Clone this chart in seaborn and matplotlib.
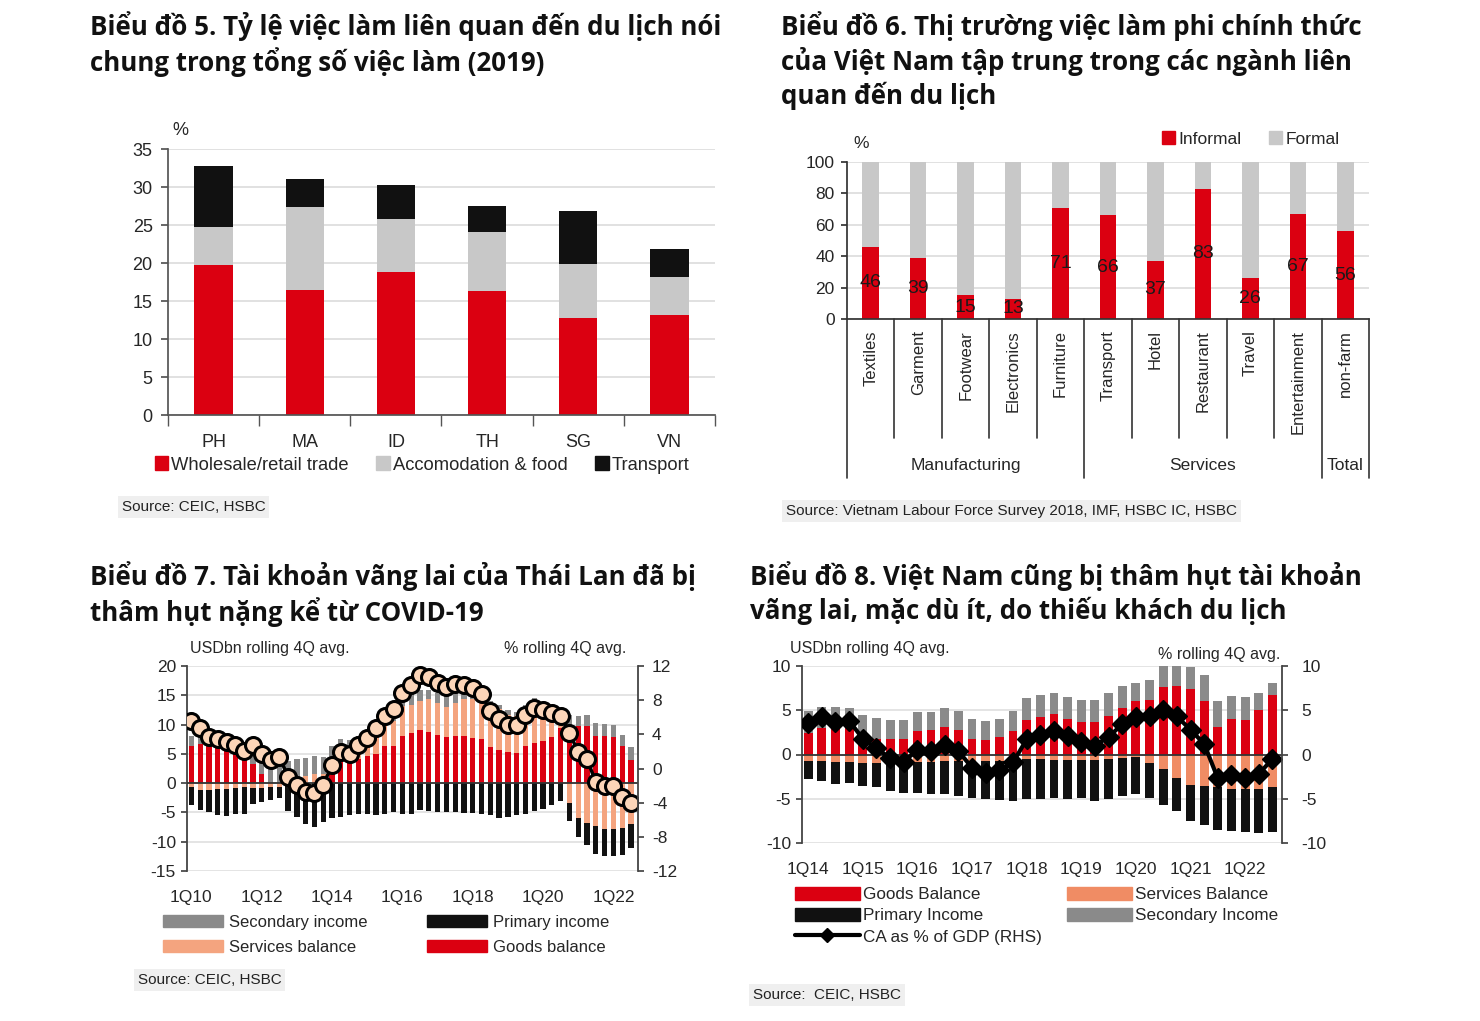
import matplotlib
matplotlib.use('Agg')
import matplotlib.pyplot as plt
import matplotlib.transforms as mtransforms
from matplotlib.patches import Patch
from matplotlib.lines import Line2D
import numpy as np
import seaborn as sns

sns.set_theme(style="white")
plt.rcParams['font.family'] = ['Liberation Sans', 'DejaVu Sans']
plt.rcParams['axes.unicode_minus'] = False
TITLE_FONT = ['Open Sans', 'DejaVu Sans']

RED = '#DB0011'
LGRAY = '#C8C8C8'
BLACK = '#111111'
SALMON7 = '#F4A47F'
SALMON8 = '#F08C64'
DGRAY = '#8A8A8A'
GRID = '#DCDCDC'
SPINE = '#555555'

# ---------------- Chart 5 data ----------------
countries = ['PH', 'MA', 'ID', 'TH', 'SG', 'VN']
wholesale = [19.8, 16.5, 18.8, 16.3, 12.8, 13.1]
accommodation = [4.9, 10.9, 7.0, 7.8, 7.1, 5.0]
transport = [8.0, 3.7, 4.4, 3.4, 7.0, 3.7]

# ---------------- Chart 6 data ----------------
sectors = ['Textiles', 'Garment', 'Footwear', 'Electronics', 'Furniture',
           'Transport', 'Hotel', 'Restaurant', 'Travel', 'Entertainment', 'non-farm']
informal = [46, 39, 15, 13, 71, 66, 37, 83, 26, 67, 56]
formal = [54, 61, 85, 87, 29, 34, 63, 17, 74, 33, 44]
groups = ['Manufacturing', 'Services', 'Total']

# ---------------- Chart 7 data (Thailand, 1Q10-3Q22) ----------------
ticks7 = ['1Q10', '1Q12', '1Q14', '1Q16', '1Q18', '1Q20', '1Q22']
goods7 = [6.4, 6.7, 6.4, 6.3, 6.0, 5.5, 4.6, 3.2, 1.5, 0.0,
          0.0, 0.0, 0.0, 0.0, 0.0, 0.4, 1.9, 3.8, 3.6, 4.2,
          4.6, 4.9, 6.3, 6.4, 8.1, 8.5, 9.1, 8.8, 8.3, 7.9,
          8.1, 8.1, 7.7, 7.6, 6.1, 5.6, 5.4, 5.1, 6.4, 6.8,
          7.2, 7.9, 9.4, 9.6, 9.7, 9.8, 8.1, 8.1, 7.9, 6.4, 4.0]
services7 = [-0.7, -1.1, -1.1, -1.0, -1.0, -0.8, -0.6, -0.9, -0.9, -0.7,
             -0.6, -0.3, 0.5, 1.2, 1.5, 1.2, 0.5, 0.3, 1.2, 1.8,
             2.3, 4.5, 4.0, 4.2, 5.0, 4.8, 5.0, 5.5, 5.3, 5.1,
             5.6, 6.3, 6.6, 6.2, 7.3, 7.0, 6.3, 6.3, 5.9, 6.4,
             5.5, 4.0, 1.5, -3.4, -5.9, -6.8, -7.4, -7.9, -7.9, -7.6, -7.0]
secondary7 = [1.7, 1.9, 1.9, 2.0, 2.3, 2.0, 1.7, 2.0, 3.4, 4.3,
              3.8, 3.8, 3.6, 3.1, 3.1, 2.9, 3.9, 3.4, 2.6, 2.0,
              0.8, 0.8, 0.6, 0.5, 1.3, 2.5, 1.8, 1.6, 1.8, 2.1,
              2.0, 1.6, 1.4, 0.8, 0.6, 0.8, 0.8, 0.7, 1.1, 1.3,
              1.1, 1.2, 0.8, 2.1, 1.8, 1.9, 2.2, 2.0, 2.1, 1.9, 2.1]
primary7 = [-3.0, -3.5, -3.8, -4.4, -4.6, -4.5, -4.7, -2.6, -2.4, -2.1,
            -2.0, -4.4, -5.8, -6.9, -7.5, -6.7, -5.9, -5.7, -5.4, -5.3,
            -5.3, -5.4, -5.3, -5.0, -5.3, -5.3, -4.5, -4.8, -5.0, -5.0,
            -5.0, -5.1, -5.1, -5.3, -5.5, -6.0, -5.8, -5.5, -5.3, -4.8,
            -4.4, -3.8, -3.1, -3.0, -3.3, -3.7, -4.7, -4.6, -4.6, -4.6, -4.1]
ca7 = [5.6, 4.7, 3.7, 3.4, 3.1, 2.75, 2.0, 2.75, 1.7, 1.0,
       1.4, -1.0, -1.9, -2.75, -2.9, -1.9, 0.4, 1.9, 1.7, 2.8,
       3.6, 4.7, 6.2, 7.0, 8.8, 9.8, 11.0, 10.7, 10.0, 9.5,
       9.9, 9.8, 9.4, 8.7, 6.7, 5.8, 5.1, 5.1, 6.3, 7.1,
       6.9, 6.5, 6.2, 4.2, 1.9, 1.1, -1.6, -2.0, -2.1, -3.3, -4.0]

# ---------------- Chart 8 data (Vietnam, 1Q14-3Q22) ----------------
ticks8 = ['1Q14', '1Q15', '1Q16', '1Q17', '1Q18', '1Q19', '1Q20', '1Q21', '1Q22']
goods8 = [2.4, 3.0, 2.9, 3.0, 1.3, 1.8, 1.8, 1.8, 2.6, 2.8,
          3.1, 2.8, 1.8, 1.6, 2.0, 2.6, 3.9, 4.2, 4.6, 4.0,
          3.7, 3.7, 4.4, 5.2, 6.0, 6.2, 7.6, 7.7, 7.4, 6.1,
          3.1, 4.0, 3.9, 5.0, 6.7]
secondary8 = [2.5, 2.4, 2.5, 2.3, 3.2, 2.3, 2.1, 2.1, 2.2, 2.0,
              2.1, 2.1, 2.2, 2.2, 2.0, 2.3, 2.5, 2.5, 2.3, 2.5,
              2.5, 2.5, 2.5, 2.5, 2.1, 2.2, 2.4, 2.5, 2.5, 2.9,
              2.9, 2.6, 2.6, 1.9, 1.4]
services8 = [-0.75, -0.75, -0.8, -0.8, -1.0, -1.0, -0.7, -0.7, -0.8, -0.8,
             -0.7, -0.7, -0.7, -0.7, -0.7, -0.6, -0.5, -0.5, -0.6, -0.6,
             -0.6, -0.6, -0.5, -0.4, -0.3, -1.0, -1.6, -2.6, -3.5, -3.6,
             -3.7, -3.9, -3.9, -3.9, -3.7]
primary8 = [-2.05, -2.25, -2.5, -2.4, -2.6, -2.7, -3.4, -3.6, -3.6, -3.7,
            -3.8, -4.0, -4.2, -4.3, -4.4, -4.7, -4.5, -4.5, -4.3, -4.4,
            -4.3, -4.6, -4.5, -4.3, -4.2, -3.9, -4.1, -3.8, -4.0, -4.4,
            -4.8, -4.8, -4.9, -5.0, -5.05]
ca8 = [3.6, 4.2, 3.7, 3.8, 1.8, 0.7, -0.4, -0.8, 0.5, 0.4,
       1.1, 0.4, -1.5, -2.1, -1.8, -0.9, 1.7, 2.2, 2.7, 2.1,
       1.4, 1.0, 2.0, 3.4, 4.2, 4.4, 5.0, 4.3, 2.8, 1.2,
       -2.7, -2.3, -2.7, -2.2, -0.5]

W, H = 1480, 1021


def fx(px):
    return px / W


def fy(py):
    return 1 - py / H


def rect(x0, y0, x1, y1):
    return [fx(x0), fy(y1), fx(x1) - fx(x0), fy(y0) - fy(y1)]


def layer(ax, cats, heights, color, width):
    sns.barplot(x=cats, y=heights, color=color, width=width, saturation=1,
                errorbar=None, edgecolor='none', linewidth=0, ax=ax)


def title(x, y, text):
    fig.text(fx(x), fy(y), text, family=TITLE_FONT, fontweight='bold',
             fontsize=18.6, va='top', ha='left', linespacing=1.27, color='#111111')


def source(x, y, text):
    fig.text(fx(x), fy(y), text, fontsize=11, va='center', ha='left', color='#222222',
             bbox=dict(facecolor='#EFEFEF', edgecolor='none', pad=2.5))


fig = plt.figure(figsize=(W / 100, H / 100), dpi=100)
fig.patch.set_facecolor('white')

# ====================== Chart 5 ======================
title(90, 11, "Biểu đồ 5. Tỷ lệ việc làm liên quan đến du lịch nói\nchung trong tổng số việc làm (2019)")
ax5 = fig.add_axes(rect(168, 149, 715, 415))
tot5 = np.array(wholesale) + np.array(accommodation) + np.array(transport)
mid5 = np.array(wholesale) + np.array(accommodation)
layer(ax5, countries, tot5, BLACK, 0.42)
layer(ax5, countries, mid5, LGRAY, 0.42)
layer(ax5, countries, wholesale, RED, 0.42)
ax5.set_ylim(0, 35)
ax5.set_xlim(-0.5, 5.5)
ax5.set_yticks(np.arange(0, 36, 5))
ax5.yaxis.grid(True, color=GRID, lw=1.2)
ax5.set_axisbelow(True)
for s in ['top', 'right']:
    ax5.spines[s].set_visible(False)
for s in ['left', 'bottom']:
    ax5.spines[s].set_color(SPINE)
ax5.tick_params(axis='y', left=True, length=5, color=SPINE, labelsize=13, pad=6)
ax5.tick_params(axis='x', length=0, labelsize=13, pad=14)
ax5.set_xticks(np.arange(-0.5, 6, 1), minor=True)
ax5.tick_params(axis='x', which='minor', bottom=True, length=8, color=SPINE)
ax5.set_xlabel('')
ax5.set_ylabel('')
fig.text(fx(172), fy(130), '%', fontsize=13, va='center')
h5 = [Patch(color=RED), Patch(color=LGRAY), Patch(color=BLACK)]
fig.legend(h5, ['Wholesale/retail trade', 'Accomodation & food', 'Transport'],
           loc='center', bbox_to_anchor=(fx(422), fy(465)), ncol=3, frameon=False,
           fontsize=13.2, handlelength=0.75, handleheight=0.75, handletextpad=0.15,
           columnspacing=1.5, borderpad=0, borderaxespad=0)
source(122, 507, 'Source: CEIC, HSBC')

# ====================== Chart 6 ======================
title(781, 11, "Biểu đồ 6. Thị trường việc làm phi chính thức\ncủa Việt Nam tập trung trong các ngành liên\nquan đến du lịch")
ax6 = fig.add_axes(rect(847, 162, 1369, 319))
tot6 = np.array(informal) + np.array(formal)
layer(ax6, sectors, tot6, LGRAY, 0.35)
layer(ax6, sectors, informal, RED, 0.35)
for i, v in enumerate(informal):
    ax6.text(i, v / 2, str(v), ha='center', va='center', fontsize=14, color='#1a1a1a')
ax6.set_ylim(0, 100)
ax6.set_xlim(-0.5, 10.5)
ax6.set_yticks(np.arange(0, 101, 20))
ax6.yaxis.grid(True, color=GRID, lw=1.2)
ax6.set_axisbelow(True)
for s in ['top', 'right']:
    ax6.spines[s].set_visible(False)
for s in ['left', 'bottom']:
    ax6.spines[s].set_color('#333333')
ax6.tick_params(axis='y', left=True, length=4, color='#333333', labelsize=12.5, pad=5)
ax6.set_xticks(range(len(sectors)))
ax6.set_xticklabels(sectors, rotation=90, va='top', ha='center', fontsize=12)
ax6.tick_params(axis='x', length=0, pad=8)
ax6.set_xlabel('')
ax6.set_ylabel('')
trans6 = mtransforms.blended_transform_factory(ax6.transData, ax6.transAxes)
for b in np.arange(-0.5, 11, 1):
    low = -1.01 if b in (-0.5, 4.5, 9.5, 10.5) else -0.755
    ax6.plot([b, b], [0, low], transform=trans6, clip_on=False, color='#333333', lw=1.2)
for g, c in zip(groups, [2.0, 7.0, 10.0]):
    ax6.text(c, -0.93, g, transform=trans6, ha='center', va='center', fontsize=12.5)
fig.text(fx(853), fy(143), '%', fontsize=12.5, va='center')
h6 = [Patch(color=RED), Patch(color=LGRAY)]
fig.legend(h6, ['Informal', 'Formal'], loc='center right',
           bbox_to_anchor=(fx(1340), fy(139)), ncol=2, frameon=False, fontsize=12.5,
           handlelength=0.75, handleheight=0.75, handletextpad=0.2, columnspacing=1.6,
           borderpad=0, borderaxespad=0)
source(786, 511, 'Source: Vietnam Labour Force Survey 2018, IMF, HSBC IC, HSBC')


# ====================== Chart 7 & 8 helpers ======================
def ca_panel(ax, goods, services, secondary, primary, salmon, width):
    n = len(goods)
    cats = [str(i) for i in range(n)]
    g = np.array(goods)
    s = np.array(services)
    pos_s = np.clip(s, 0, None)
    neg_s = np.clip(s, None, 0)
    layer(ax, cats, g + pos_s + np.array(secondary), DGRAY, width)
    layer(ax, cats, g + pos_s, salmon, width)
    layer(ax, cats, g, RED, width)
    layer(ax, cats, neg_s + np.array(primary), BLACK, width)
    layer(ax, cats, neg_s, salmon, width)
    ax.axhline(0, color='#333333', lw=1.3, zorder=3)
    ax.yaxis.grid(True, color=GRID, lw=1.1)
    ax.set_axisbelow(True)
    for sp in ['top', 'bottom', 'right']:
        ax.spines[sp].set_visible(False)
    ax.spines['left'].set_color('#444444')
    ax.spines['left'].set_linewidth(1.3)
    ax.set_xlabel('')
    ax.set_ylabel('')


# ====================== Chart 7 ======================
title(90, 561, "Biểu đồ 7. Tài khoản vãng lai của Thái Lan đã bị\nthâm hụt nặng kể từ COVID-19")
ax7 = fig.add_axes(rect(187, 666, 638, 871))
ca_panel(ax7, goods7, services7, secondary7, primary7, SALMON7, 0.6)
ax7.set_ylim(-15, 20)
ax7.set_yticks(np.arange(-15, 21, 5))
ax7.tick_params(axis='y', left=True, length=4, color='#444444', labelsize=12.5, pad=4)
ax7.set_xticks(np.arange(0, len(goods7), 8))
ax7.set_xticklabels(ticks7)
ax7.tick_params(axis='x', length=0, labelsize=12.5, pad=14)
ax7r = ax7.twinx()
sns.lineplot(x=np.arange(len(ca7)), y=ca7, ax=ax7r, color='black', lw=2.5,
             marker='o', markersize=11.5, markerfacecolor='#FCD5B8',
             markeredgecolor='black', markeredgewidth=2.2)
ax7r.set_ylim(-12, 12)
ax7r.set_yticks(np.arange(-12, 13, 4))
for sp in ['top', 'bottom', 'left']:
    ax7r.spines[sp].set_visible(False)
ax7r.spines['right'].set_color('#444444')
ax7r.spines['right'].set_linewidth(1.3)
ax7r.tick_params(axis='y', right=True, length=4, color='#444444', labelsize=12.5, pad=6)
ax7r.set_ylabel('')
ax7r.grid(False)
ax7.set_xlim(-0.5, 50.8)
fig.text(fx(190), fy(648), 'USDbn rolling 4Q avg.', fontsize=11.5, va='center')
fig.text(fx(626), fy(648), '% rolling 4Q avg.', fontsize=11.5, va='center', ha='right')
h7 = [Patch(color=DGRAY), Patch(color=SALMON7), Patch(color=BLACK), Patch(color=RED)]
fig.legend(h7, ['Secondary income', 'Services balance', 'Primary income', 'Goods balance'],
           loc='upper left', bbox_to_anchor=(fx(163), fy(915)), ncol=2, frameon=False,
           fontsize=12, handlelength=3.6, handleheight=0.75, handletextpad=0.35,
           columnspacing=3.6, labelspacing=0.6, borderpad=0, borderaxespad=0)
source(138, 980, 'Source: CEIC, HSBC')

# ====================== Chart 8 ======================
title(750, 561, "Biểu đồ 8. Việt Nam cũng bị thâm hụt tài khoản\nvãng lai, mặc dù ít, do thiếu khách du lịch")
ax8 = fig.add_axes(rect(802, 666, 1282, 843))
ca_panel(ax8, goods8, services8, secondary8, primary8, SALMON8, 0.65)
ax8.set_ylim(-10, 10)
ax8.set_yticks(np.arange(-10, 11, 5))
ax8.tick_params(axis='y', left=True, length=4, color='#444444', labelsize=12.5, pad=4)
ax8.set_xticks(np.arange(0, len(goods8), 4))
ax8.set_xticklabels(ticks8)
ax8.tick_params(axis='x', length=0, labelsize=12.5, pad=14)
ax8r = ax8.twinx()
sns.lineplot(x=np.arange(len(ca8)), y=ca8, ax=ax8r, color='black', lw=3,
             marker='D', markersize=10, markerfacecolor='black',
             markeredgecolor='black', markeredgewidth=1)
ax8r.set_ylim(-10, 10)
ax8r.set_yticks(np.arange(-10, 11, 5))
for sp in ['top', 'bottom', 'left']:
    ax8r.spines[sp].set_visible(False)
ax8r.spines['right'].set_color('#444444')
ax8r.spines['right'].set_linewidth(1.3)
ax8r.tick_params(axis='y', right=True, length=4, color='#444444', labelsize=12.5, pad=10)
ax8r.set_ylabel('')
ax8r.grid(False)
ax8.set_xlim(-0.45, 34.7)
fig.text(fx(790), fy(648), 'USDbn rolling 4Q avg.', fontsize=11.5, va='center')
fig.text(fx(1280), fy(654), '% rolling 4Q avg.', fontsize=11.5, va='center', ha='right')
h8 = [Patch(color=RED), Patch(color=BLACK),
      Line2D([], [], color='black', lw=3, marker='D', markersize=7),
      Patch(color=SALMON8), Patch(color=DGRAY)]
fig.legend(h8, ['Goods Balance', 'Primary Income', 'CA as % of GDP (RHS)',
                'Services Balance', 'Secondary Income'],
           loc='upper left', bbox_to_anchor=(fx(795), fy(887)), ncol=2, frameon=False,
           fontsize=12.3, handlelength=3.8, handleheight=0.75, handletextpad=0.2,
           columnspacing=1.45, labelspacing=0.35, borderpad=0, borderaxespad=0)
source(753, 995, 'Source:  CEIC, HSBC')

fig.savefig('out.png', dpi=100, facecolor='white')
